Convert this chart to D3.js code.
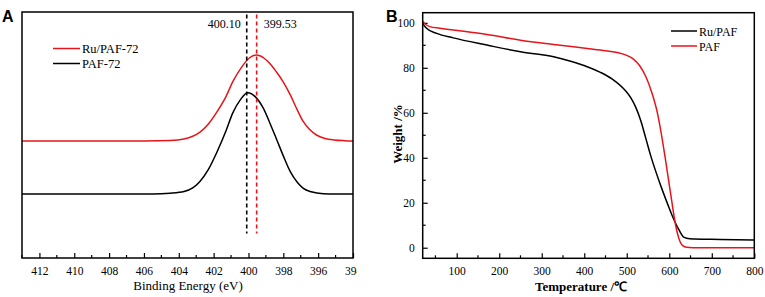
<!DOCTYPE html>
<html>
<head>
<meta charset="utf-8">
<script src="https://cdn.jsdelivr.net/npm/d3@7"></script>
<style>
  body { margin: 0; background: #fff; }
  svg text { font-family: "Liberation Serif", "Times New Roman", serif; }
  svg text.panel_tag { font-family: "Liberation Sans", Arial, sans-serif; font-weight: bold; font-size: 16px; }
</style>
</head>
<body>
<svg id="main_chart" width="765" height="297"></svg>
<script>
// PANEL A - XPS N 1s (binding energy eV, intensity a.u.)
const xps_ru = [[413, 47.6], [406, 47.6], [404.5, 47.8], [403.7, 48.4], [403.2, 49.5], [402.8, 51.1],
  [402.3, 54.5], [401.8, 59.5], [401.3, 65.5], [400.9, 71.7], [400.4, 77.5], [399.95, 81.3],
  [399.55, 82.5], [399.1, 81.2], [398.7, 78.5], [398.4, 75.7], [398.0, 71.5], [397.6, 66.3],
  [397.2, 60.2], [396.85, 55.4], [396.5, 52.3], [396.1, 50.0], [395.6, 48.6], [395.1, 48.0],
  [394.5, 47.7], [394, 47.6]];
const xps_paf = [[413, 26.0], [405.5, 26.0], [404.5, 26.3], [403.7, 27.0], [403.2, 28.5], [402.8, 31.0],
  [402.3, 36.0], [401.8, 43.2], [401.3, 51.5], [400.9, 59.0], [400.45, 64.5], [400.05, 67.2],
  [399.6, 65.5], [399.15, 60.9], [398.75, 54.5], [398.4, 48.5], [398.0, 41.5], [397.6, 35.1],
  [397.2, 30.8], [396.85, 28.3], [396.4, 26.9], [395.7, 26.1], [395, 26.0], [394, 26.0]];
const peak_marks = [{ energy: 400.10, label: '400.10', color: '#000' }, { energy: 399.53, label: '399.53', color: '#e8141a' }];
const xps_ticks = [412, 410, 408, 406, 404, 402, 400, 398, 396, 394];

// PANEL B - TGA (temperature C, weight %)
const tga_ru = [[20, 100], [22, 99.2], [29, 97.6], [53, 95.3], [92, 93.3], [171, 90.1], [250, 87.1],
  [328, 84.9], [368, 82.9], [407, 80.5], [438, 78], [466, 75], [497, 69.8], [510, 66.5],
  [521, 62.5], [533, 56.5], [545, 48.5], [557, 40.5], [569, 33.5], [582, 26.5], [596, 19.5],
  [608, 13.8], [623, 7.9], [635, 4.6], [648, 4], [660, 3.9], [720, 3.7], [800, 3.4]];
const tga_paf = [[20, 100.6], [25, 99.6], [37, 98.3], [60, 97.6], [92, 96.8], [171, 94.8], [250, 92.3],
  [328, 90.4], [407, 88.6], [450, 87.6], [480, 86.7], [500, 85.5], [515, 84], [530, 81],
  [545, 76], [558, 69.5], [572, 60], [581, 51], [590, 40.5], [598, 30.5], [606, 20.5],
  [614, 11], [622, 4.5], [630, 1.2], [640, 0.2], [655, 0], [720, 0], [800, 0]];
const tga_x_ticks = [100, 200, 300, 400, 500, 600, 700, 800];
const tga_y_ticks = [0, 20, 40, 60, 80, 100];

const svg = d3.select('#main_chart');
const RED = '#e8141a';
const SERIF = '"Liberation Serif", "Times New Roman", serif';

// ---------- PANEL A ----------
svg.append('defs').append('clipPath').attr('id', 'clip_a')
  .append('rect').attr('x', 0).attr('y', 0).attr('width', 357).attr('height', 297);
const pa = svg.append('g').attr('clip-path', 'url(#clip_a)');

const xA = d3.scaleLinear().domain([413, 394]).range([22, 353]);
const yA = d3.scaleLinear().domain([0, 100]).range([258, 12]);

const axisA = d3.axisBottom(xA).tickValues(xps_ticks).tickSizeInner(-5).tickSizeOuter(0).tickPadding(9);
const gA = pa.append('g').attr('transform', 'translate(0,258)').call(axisA);
gA.select('.domain').remove();
gA.selectAll('line').attr('stroke', '#000').attr('stroke-width', 1.2);
gA.selectAll('text').style('font-size', '11.5px').style('font-family', SERIF);
pa.append('g').selectAll('line').data(d3.range(413, 394, -2)).enter().append('line')
  .attr('x1', d => xA(d)).attr('x2', d => xA(d)).attr('y1', 258).attr('y2', 255)
  .attr('stroke', '#000').attr('stroke-width', 1.2);

const lineA = d3.line().x(d => xA(d[0])).y(d => yA(d[1])).curve(d3.curveMonotoneX);
pa.append('path').attr('d', lineA(xps_paf)).attr('fill', 'none').attr('stroke', '#000').attr('stroke-width', 1.5);
pa.append('path').attr('d', lineA(xps_ru)).attr('fill', 'none').attr('stroke', RED).attr('stroke-width', 1.5);

pa.selectAll('line.peak').data(peak_marks).enter().append('line')
  .attr('x1', d => xA(d.energy)).attr('x2', d => xA(d.energy))
  .attr('y1', yA(99)).attr('y2', yA(10))
  .attr('stroke', d => d.color).attr('stroke-width', 1.6).attr('stroke-dasharray', '4,3');
pa.append('text').attr('x', xA(peak_marks[0].energy) - 6).attr('y', 28).attr('text-anchor', 'end')
  .style('font-size', '12px').text(peak_marks[0].label);
pa.append('text').attr('x', xA(peak_marks[1].energy) + 7).attr('y', 28)
  .style('font-size', '12px').text(peak_marks[1].label);

pa.append('rect').attr('x', 22).attr('y', 12).attr('width', 331).attr('height', 246)
  .attr('fill', 'none').attr('stroke', '#000').attr('stroke-width', 1.5);

const legA = [{ name: 'Ru/PAF-72', color: RED, y: 48.5 }, { name: 'PAF-72', color: '#000', y: 63.5 }];
legA.forEach(d => {
  pa.append('line').attr('x1', 53).attr('x2', 80).attr('y1', d.y).attr('y2', d.y)
    .attr('stroke', d.color).attr('stroke-width', 1.5);
  pa.append('text').attr('x', 82).attr('y', d.y + 4.5).style('font-size', '12.5px').text(d.name);
});

pa.append('text').attr('x', 188).attr('y', 290).attr('text-anchor', 'middle').style('font-size', '13px')
  .text('Binding Energy (eV)');
pa.append('text').attr('class', 'panel_tag').attr('x', 2).attr('y', 22).text('A');

// ---------- PANEL B ----------
const pb = svg.append('g');
const xB = d3.scaleLinear().domain([20, 800]).range([422.7, 754.3]);
const yB = d3.scaleLinear().domain([-4.7, 104.5]).range([258.3, 12.7]);

const gBx = pb.append('g').attr('transform', 'translate(0,258.3)')
  .call(d3.axisBottom(xB).tickValues(tga_x_ticks).tickSizeInner(-5).tickSizeOuter(0).tickPadding(9));
const gBy = pb.append('g').attr('transform', 'translate(422.7,0)')
  .call(d3.axisLeft(yB).tickValues(tga_y_ticks).tickSizeInner(-5).tickSizeOuter(0).tickPadding(8));
[gBx, gBy].forEach(g => {
  g.select('.domain').remove();
  g.selectAll('line').attr('stroke', '#000').attr('stroke-width', 1.2);
  g.selectAll('text').style('font-size', '11.5px').style('font-family', SERIF);
});
pb.append('g').selectAll('line').data(d3.range(50, 800, 100)).enter().append('line')
  .attr('x1', d => xB(d)).attr('x2', d => xB(d)).attr('y1', 258.3).attr('y2', 255.3)
  .attr('stroke', '#000').attr('stroke-width', 1.2);
pb.append('g').selectAll('line').data(d3.range(10, 100, 20)).enter().append('line')
  .attr('y1', d => yB(d)).attr('y2', d => yB(d)).attr('x1', 422.7).attr('x2', 425.7)
  .attr('stroke', '#000').attr('stroke-width', 1.2);

const lineB = d3.line().x(d => xB(d[0])).y(d => yB(d[1])).curve(d3.curveMonotoneX);
pb.append('path').attr('d', lineB(tga_ru)).attr('fill', 'none').attr('stroke', '#000').attr('stroke-width', 1.5);
pb.append('path').attr('d', lineB(tga_paf)).attr('fill', 'none').attr('stroke', RED).attr('stroke-width', 1.5);

pb.append('rect').attr('x', 422.7).attr('y', 12.7).attr('width', 331.6).attr('height', 245.6)
  .attr('fill', 'none').attr('stroke', '#000').attr('stroke-width', 1.5);

const legB = [{ name: 'Ru/PAF', color: '#000', y: 31 }, { name: 'PAF', color: RED, y: 46 }];
legB.forEach(d => {
  pb.append('line').attr('x1', 671).attr('x2', 697).attr('y1', d.y).attr('y2', d.y)
    .attr('stroke', d.color).attr('stroke-width', 1.5);
  pb.append('text').attr('x', 699).attr('y', d.y + 4.5).style('font-size', '12px').text(d.name);
});

pb.append('text').attr('x', 581).attr('y', 291).attr('text-anchor', 'middle').style('font-size', '13px')
  .style('font-weight', 'bold').text('Temperature /℃');
pb.append('text').attr('transform', 'translate(402,134) rotate(-90)').attr('text-anchor', 'middle')
  .style('font-size', '13px').style('font-weight', 'bold').text('Weight /%');
pb.append('text').attr('class', 'panel_tag').attr('x', 386).attr('y', 22).text('B');
</script>
</body>
</html>
